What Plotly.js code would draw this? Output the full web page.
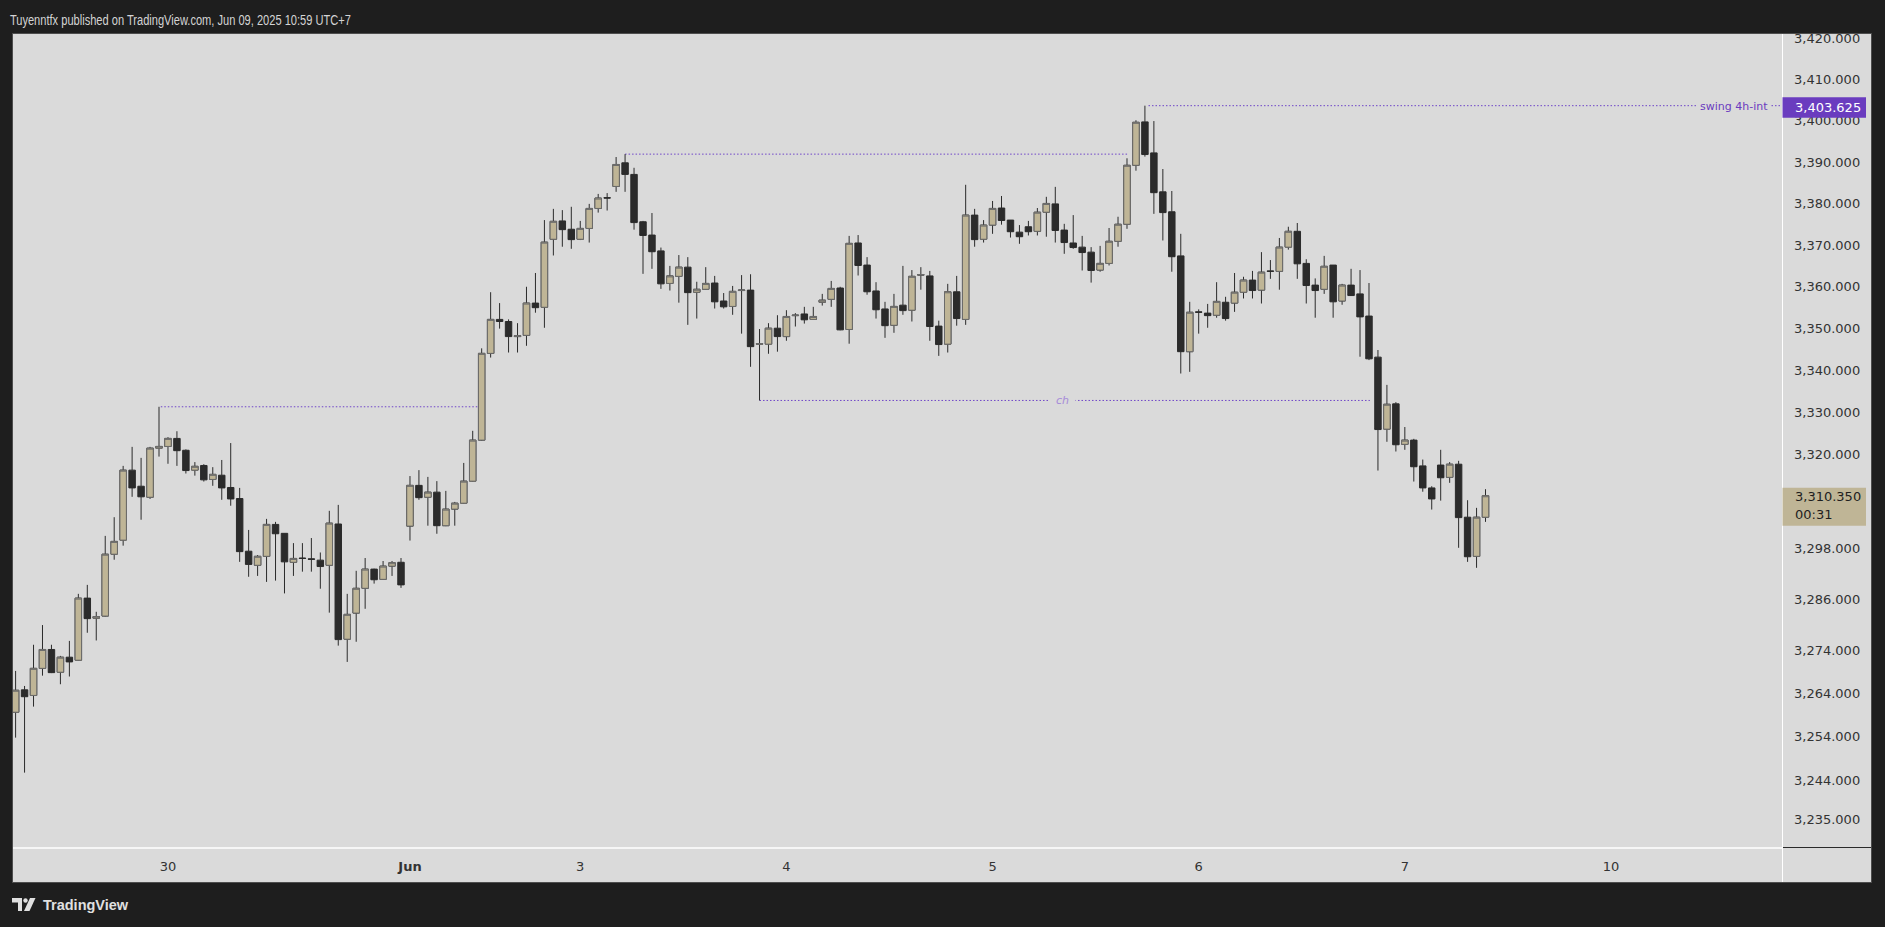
<!DOCTYPE html>
<html><head><meta charset="utf-8">
<script src="https://cdn.plot.ly/plotly-3.0.1.min.js"></script>
<style>html,body{margin:0;padding:0;background:#1e1e1e;overflow:hidden}#chart{width:1885px;height:927px}</style>
</head><body><div id="chart"></div>
<script>
// XAUUSD 1h candles, bar 0 = May 30 00:00 (UTC+7)
const firstBarIndex = -17;
const openP = [3259.7,3264.9,3263.6,3269.9,3274.3,3269.0,3272.5,3271.8,3286.3,3281.6,3282.1,3296.6,3299.9,3316.4,3312.6,3310.0,3321.6,
3322.0,3323.9,3321.1,3316.4,3317.5,3314.2,3315.2,3312.3,3309.7,3297.3,
3294.0,3296.1,3303.6,3301.5,3294.7,3295.7,3295.5,3295.2,3294.0,3303.7,
3276.7,3282.8,3288.6,3293.1,3290.7,3293.8,3294.7,3303.2,3312.8,3310.0,
3311.2,3303.3,3307.2,3308.6,3313.8,3323.5,3344.1,3352.2,3351.7,3348.1,
3348.4,3356.1,3355.1,3371.4,3375.8,3373.8,3371.4,3374.0,3378.8,3381.4,
3384.1,3389.8,3387.0,3375.6,3372.4,3368.6,3360.8,3362.5,3364.7,3358.7,
3359.4,3360.9,3356.6,3355.3,3359.1,3359.2,3346.3,3346.3,3350.1,3348.1,
3353.1,3353.5,3352.2,3356.3,3357.0,3359.7,3349.8,3370.5,3365.2,3359.0,
3354.7,3350.8,3355.6,3354.4,3362.8,3362.6,3350.6,3346.3,3358.8,3352.2,
3377.2,3371.4,3374.8,3378.9,3376.0,3373.1,3374.4,3373.3,3377.9,3379.9,
3373.6,3370.5,3369.5,3368.3,3364.0,3365.6,3370.9,3375.0,3389.2,3399.7,
3392.2,3382.8,3378.0,3367.4,3344.5,3354.0,3353.7,3353.2,3356.3,3356.1,
3358.7,3361.6,3359.2,3363.8,3363.7,3369.5,3373.3,3365.6,3360.4,3359.4,
3365.2,3356.6,3360.4,3358.3,3353.0,3343.2,3326.1,3332.1,3322.5,3323.5,
3317.4,3312.2,3317.6,3314.7,3317.8,3305.3,3296.1,3305.3];
const highP = [3269.3,3265.8,3275.4,3280.0,3275.4,3272.8,3276.3,3287.3,3289.4,3283.1,3300.9,3305.3,3317.4,3321.9,3319.3,3321.9,3331.4,
3324.2,3325.6,3321.3,3318.3,3317.8,3317.1,3318.8,3322.8,3312.2,3302.3,
3296.4,3304.9,3304.2,3301.5,3299.2,3299.2,3300.4,3297.0,3306.8,3308.2,
3287.3,3292.7,3295.7,3293.2,3295.0,3295.0,3295.7,3315.0,3316.4,3314.8,
3313.8,3311.5,3308.9,3318.1,3325.7,3345.3,3358.7,3356.1,3352.2,3351.3,
3360.0,3363.3,3376.0,3378.7,3378.4,3379.2,3375.8,3379.9,3382.3,3382.5,
3391.2,3391.9,3388.6,3375.8,3377.7,3369.4,3365.0,3367.6,3367.1,3361.2,
3364.7,3362.6,3358.5,3360.2,3362.8,3363.0,3349.9,3351.3,3353.2,3354.4,
3353.7,3355.2,3355.2,3358.3,3361.4,3360.0,3372.2,3372.4,3367.1,3361.1,
3356.4,3358.3,3365.0,3364.0,3364.7,3363.8,3351.9,3360.7,3362.6,3384.5,
3378.7,3376.0,3380.6,3381.8,3376.0,3374.8,3375.8,3378.9,3381.6,3384.0,
3375.1,3377.2,3372.2,3369.5,3369.8,3374.1,3376.8,3390.9,3400.1,3403.625,
3399.9,3388.3,3383.0,3372.7,3356.4,3354.6,3355.9,3361.1,3357.6,3363.3,
3362.4,3363.8,3368.3,3366.4,3371.7,3374.4,3375.3,3366.6,3362.0,3367.4,
3365.2,3360.7,3364.3,3364.0,3360.9,3344.9,3336.6,3332.5,3326.6,3323.8,
3318.9,3312.6,3321.2,3318.3,3318.6,3309.3,3307.5,3311.9];
const lowP = [3253.8,3245.7,3261.0,3268.2,3268.8,3266.2,3268.0,3271.7,3278.2,3276.4,3282.0,3295.3,3298.6,3310.1,3304.7,3309.6,3319.6,
3317.9,3317.4,3315.6,3315.1,3313.7,3312.7,3309.4,3308.0,3294.8,3291.3,
3291.5,3290.1,3290.4,3287.4,3291.5,3292.5,3292.5,3288.5,3282.9,3275.2,
3271.4,3276.1,3283.8,3289.7,3290.6,3291.5,3288.7,3299.8,3309.4,3303.3,
3301.4,3303.2,3303.3,3308.5,3313.7,3323.4,3343.1,3350.0,3344.3,3344.3,
3345.9,3353.8,3350.2,3367.5,3369.6,3369.1,3371.2,3370.6,3377.8,3378.3,
3382.8,3382.8,3373.7,3363.1,3364.3,3359.5,3359.1,3356.2,3350.9,3352.4,
3359.3,3354.8,3354.8,3353.3,3348.8,3340.9,3332.9,3344.0,3344.5,3347.1,
3350.5,3351.2,3352.1,3355.5,3355.2,3349.6,3346.4,3362.7,3358.1,3352.4,
3347.8,3349.0,3353.3,3351.7,3359.3,3347.1,3343.5,3344.3,3350.7,3350.9,
3369.6,3370.6,3372.7,3374.9,3371.8,3370.3,3372.3,3372.3,3372.0,3370.6,
3367.9,3369.1,3363.9,3361.0,3363.6,3365.1,3369.6,3373.9,3387.9,3391.3,
3377.5,3371.1,3363.6,3339.3,3339.7,3348.8,3350.2,3352.6,3351.9,3354.0,
3357.2,3357.2,3356.0,3361.9,3359.3,3368.9,3361.9,3356.0,3352.6,3358.3,
3352.6,3355.7,3357.8,3343.3,3342.5,3316.3,3323.1,3320.8,3321.2,3313.7,
3311.3,3307.1,3309.2,3313.4,3298.1,3294.8,3293.4,3304.2];
const closeP = [3264.8,3263.3,3269.9,3274.3,3268.9,3272.5,3271.4,3286.3,3281.5,3282.0,3296.6,3299.6,3316.4,3312.2,3310.1,3321.6,3322.0,
3323.9,3321.0,3316.3,3317.3,3314.1,3315.4,3312.2,3309.6,3297.2,3294.2,
3296.1,3303.6,3301.4,3294.8,3295.6,3295.6,3295.4,3293.7,3303.9,3276.6,
3282.5,3288.6,3293.1,3290.6,3293.8,3294.6,3289.4,3312.8,3309.9,3311.2,
3303.3,3307.2,3308.6,3313.8,3323.5,3344.1,3352.2,3351.7,3348.1,3348.3,
3356.1,3355.0,3370.7,3375.7,3373.7,3371.3,3374.0,3378.8,3381.3,3381.3,
3389.4,3387.0,3375.4,3372.3,3368.4,3360.7,3362.6,3364.7,3358.6,3359.4,
3360.8,3356.4,3355.2,3358.9,3359.2,3345.7,3346.4,3350.1,3348.1,3352.9,
3353.2,3352.1,3352.9,3356.8,3359.6,3349.7,3370.4,3365.1,3358.8,3354.5,
3350.7,3355.3,3354.3,3362.5,3362.9,3350.5,3346.2,3358.8,3352.4,3377.2,
3371.3,3374.8,3378.8,3375.9,3373.2,3372.0,3373.2,3377.9,3380.0,3373.5,
3370.6,3369.4,3368.2,3363.9,3365.6,3370.9,3375.0,3389.2,3399.6,3391.8,
3382.6,3377.8,3367.2,3344.5,3353.9,3353.9,3353.1,3356.5,3352.4,3358.7,
3361.6,3359.1,3363.5,3363.7,3369.5,3373.3,3365.5,3360.3,3359.1,3364.9,
3356.4,3360.4,3357.9,3352.8,3342.8,3326.0,3332.0,3322.4,3323.5,3317.2,
3312.2,3309.6,3314.6,3317.8,3305.2,3296.0,3305.3,3310.35];

const dayTickBars = [0, 27, 46, 69, 92, 115, 138, 161];
const dayTickLabels = ['30', '<b>Jun</b>', '3', '4', '5', '6', '7', '10'];
const priceTicks = [3420,3410,3400,3390,3380,3370,3360,3350,3340,3330,3320,3298,3286,3274,3264,3254,3244,3235];
const lastPrice = 3310.35, lastCountdown = '00:31';
const swingHigh = 3403.625, swingLabel = 'swing 4h-int';
const highLevelA = 3331.4, highLevelB = 3391.9, chLevel = 3332.9, chLabel = 'ch';
const headerText = 'Tuyenntfx published on TradingView.com, Jun 09, 2025 10:59 UTC+7';

// ---------- layout helpers (pixels -> paper) ----------
const PL = 13, PR = 1782, PT = 34, PB = 847;
const px = v => (v - PL) / (PR - PL);
const py = v => (PB - v) / (PB - PT);
const fmt = v => v.toLocaleString('en-US', {minimumFractionDigits: 3, maximumFractionDigits: 3});
const yRange = [Math.log10(3228.55), Math.log10(3421.05)];
const xRange = [-17.29, 180.08];
// price -> pixel row through the same log scale as the axis
const priceRow = p => PB - (Math.log10(p) - yRange[0]) / (yRange[1] - yRange[0]) * (PB - PT);

const barX = openP.map((_, k) => firstBarIndex + k);
const bullIdx = barX.map((_, k) => k).filter(k => closeP[k] > openP[k]);

const BULL = '#bfb596', BEAR = '#2b2b2b', BULLEDGE = '#6b6b6b', PURPLE = '#6a3cbf', LINEP = '#6f45c8';
const axisFont = {family: 'DejaVu Sans, Verdana, sans-serif', size: 13, color: '#333333'};

const traces = [
  {type: 'candlestick', x: barX, open: openP, high: highP, low: lowP, close: closeP,
   increasing: {line: {color: BEAR, width: 1}, fillcolor: BULL},
   decreasing: {line: {color: BEAR, width: 1}, fillcolor: BEAR},
   whiskerwidth: 0, hoverinfo: 'skip', showlegend: false},
  {type: 'candlestick', x: bullIdx.map(k => barX[k]),
   open: bullIdx.map(k => openP[k]), close: bullIdx.map(k => closeP[k]),
   high: bullIdx.map(k => closeP[k]), low: bullIdx.map(k => openP[k]),
   increasing: {line: {color: BULLEDGE, width: 1}, fillcolor: BULL},
   decreasing: {line: {color: BULLEDGE, width: 1}, fillcolor: BULL},
   whiskerwidth: 0, hoverinfo: 'skip', showlegend: false}
];

const dotted = {color: LINEP, width: 1, dash: '1.5px,2px'};
const swRow = priceRow(swingHigh), lpRow = priceRow(lastPrice);
const HEADER_LEFT = 10, HEADER_WIDTH = 341;

const shapes = [
  // light panel
  {type: 'rect', xref: 'paper', yref: 'paper', x0: px(12.5), x1: px(1871.5), y0: py(882.5), y1: py(33.5),
   fillcolor: '#dadada', line: {color: '#4d4d4d', width: 1}, layer: 'below'},
  {type: 'line', xref: 'paper', yref: 'paper', x0: px(1782.5), x1: px(1782.5), y0: py(882), y1: py(34),
   line: {color: '#ffffff', width: 1}, layer: 'below'},
  {type: 'line', xref: 'paper', yref: 'paper', x0: px(13), x1: px(1782), y0: py(848), y1: py(848),
   line: {color: '#ffffff', width: 1.5}, layer: 'below'},
  {type: 'line', xref: 'paper', yref: 'paper', x0: px(1783), x1: px(1871), y0: py(847.5), y1: py(847.5),
   line: {color: '#2a2a2a', width: 1.2}, layer: 'below'},
  // levels
  {type: 'line', xref: 'x', yref: 'y', x0: -0.8, x1: 34.7, y0: highLevelA, y1: highLevelA, line: dotted, layer: 'below'},
  {type: 'line', xref: 'x', yref: 'y', x0: 51, x1: 107.1, y0: highLevelB, y1: highLevelB, line: dotted, layer: 'below'},
  {type: 'line', xref: 'x', yref: 'y', x0: 66, x1: 134.1, y0: chLevel, y1: chLevel, line: dotted, layer: 'below'},
  {type: 'line', xref: 'x', yref: 'y', x0: 109.4, x1: xRange[1], y0: swingHigh, y1: swingHigh, line: dotted, layer: 'below'},
  // price-axis labels
  {type: 'rect', xref: 'paper', yref: 'paper', x0: px(1782.5), x1: px(1866), y0: py(swRow + 12), y1: py(swRow - 8.5),
   fillcolor: PURPLE, line: {width: 0}, layer: 'above'},
  {type: 'rect', xref: 'paper', yref: 'paper', x0: px(1782.5), x1: px(1866), y0: py(lpRow + 30), y1: py(lpRow - 8),
   fillcolor: BULL, line: {width: 0}, layer: 'above'},
  // TradingView logo
  {type: 'path', xref: 'paper', yref: 'paper', layer: 'above', fillcolor: '#e0e0e0', line: {width: 0},
   path: `M ${px(12)},${py(898)} L ${px(22)},${py(898)} L ${px(22)},${py(911)} L ${px(18)},${py(911)} L ${px(18)},${py(902.5)} L ${px(12)},${py(902.5)} Z`},
  {type: 'circle', xref: 'paper', yref: 'paper', layer: 'above', fillcolor: '#e0e0e0', line: {width: 0},
   x0: px(23.3), x1: px(27.7), y0: py(902.7), y1: py(898.3)},
  {type: 'path', xref: 'paper', yref: 'paper', layer: 'above', fillcolor: '#e0e0e0', line: {width: 0},
   path: `M ${px(30)},${py(898)} L ${px(35.5)},${py(898)} L ${px(29.5)},${py(911)} L ${px(24)},${py(911)} Z`}
];

const annotations = [
  {xref: 'paper', yref: 'paper', x: px(HEADER_LEFT + HEADER_WIDTH / 2), y: py(20), xanchor: 'center', yanchor: 'middle', showarrow: false,
   text: headerText, font: {family: 'Liberation Sans, Arial, sans-serif', size: 14, color: '#d4d4d4'}},
  {xref: 'paper', yref: 'paper', x: px(41), y: py(904.5), xanchor: 'left', yanchor: 'middle', showarrow: false,
   text: '<b>TradingView</b>', font: {family: 'Liberation Sans, Arial, sans-serif', size: 14.5, color: '#e0e0e0'}},
  {xref: 'paper', yref: 'y', x: px(1793), y: Math.log10(swingHigh), xanchor: 'left', yanchor: 'middle', yshift: -2,
   showarrow: false, text: fmt(swingHigh), font: {family: axisFont.family, size: 13, color: '#ffffff'}},
  {xref: 'paper', yref: 'y', x: px(1793), y: Math.log10(lastPrice), xanchor: 'left', yanchor: 'middle', yshift: -1,
   showarrow: false, text: fmt(lastPrice), font: {family: axisFont.family, size: 13, color: '#1e1e1e'}},
  {xref: 'paper', yref: 'y', x: px(1793), y: Math.log10(lastPrice), xanchor: 'left', yanchor: 'middle', yshift: -19,
   showarrow: false, text: lastCountdown, font: {family: axisFont.family, size: 13, color: '#1e1e1e'}},
  {xref: 'paper', yref: 'y', x: px(1771), y: Math.log10(swingHigh), xanchor: 'right', yanchor: 'middle', yshift: -1,
   showarrow: false, text: swingLabel, bgcolor: '#dadada', borderpad: 2,
   font: {family: 'DejaVu Sans, sans-serif', size: 11, color: PURPLE}},
  {xref: 'x', yref: 'y', x: 99.85, y: Math.log10(chLevel), xanchor: 'center', yanchor: 'middle',
   showarrow: false, text: '<i>' + chLabel + '</i>', bgcolor: '#dadada', borderpad: 6,
   font: {family: 'DejaVu Sans, sans-serif', size: 11, color: '#a68bd9'}}
];

const layout = {
  width: 1885, height: 927,
  margin: {l: PL, r: 1885 - PR, t: PT, b: 927 - PB, pad: 0},
  paper_bgcolor: '#1e1e1e', plot_bgcolor: '#dadada',
  showlegend: false, hovermode: false, dragmode: false,
  boxmode: 'overlay', boxgap: 0.28, boxgroupgap: 0,
  xaxis: {type: 'linear', range: xRange, tickmode: 'array', tickvals: dayTickBars, ticktext: dayTickLabels,
          showgrid: false, zeroline: false, showline: false, ticks: '', tickfont: axisFont,
          ticklabelstandoff: 10, rangeslider: {visible: false}, fixedrange: true},
  yaxis: {type: 'log', side: 'right', range: yRange,
          tickmode: 'array', tickvals: priceTicks, ticktext: priceTicks.map(fmt),
          showgrid: false, zeroline: false, showline: false, ticks: '', tickfont: axisFont,
          ticklabelstandoff: 11, fixedrange: true},
  shapes: shapes, annotations: annotations
};

Plotly.newPlot('chart', traces, layout, {displayModeBar: false, staticPlot: true}).then(() => {
  // fit the condensed header line to the reference width (text stays centred on its anchor)
  document.querySelectorAll('.annotation-text').forEach(t => {
    if (t.textContent === headerText) {
      t.setAttribute('textLength', String(HEADER_WIDTH));
      t.setAttribute('lengthAdjust', 'spacingAndGlyphs');
    }
  });
});
</script></body></html>
